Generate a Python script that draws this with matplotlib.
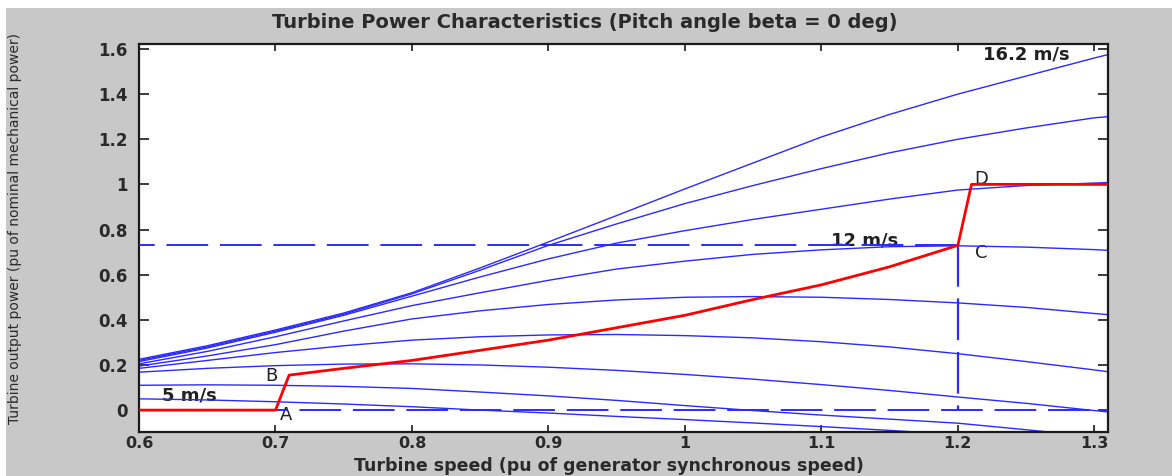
import numpy as np
import matplotlib.pyplot as plt
from matplotlib.patches import Rectangle

plt.rcParams['font.family'] = ['DejaVu Sans']
plt.rcParams['lines.scale_dashes'] = False

# turbine speed (pu) where the curves were read
speed = [0.6, 0.65, 0.7, 0.75, 0.8, 0.85, 0.9, 0.95, 1.0, 1.05, 1.1, 1.15, 1.2, 1.25, 1.3, 1.31]

# turbine output power (pu) for each wind speed
p16_2 = [0.225, 0.285, 0.355, 0.43, 0.52, 0.63, 0.745, 0.862, 0.98, 1.095, 1.21, 1.31, 1.40, 1.48, 1.56, 1.575]
p14_8 = [0.22, 0.28, 0.35, 0.425, 0.515, 0.62, 0.73, 0.825, 0.915, 0.995, 1.07, 1.14, 1.20, 1.25, 1.295, 1.30]
p13_4 = [0.215, 0.275, 0.345, 0.42, 0.505, 0.59, 0.67, 0.74, 0.795, 0.845, 0.89, 0.935, 0.975, 0.995, 1.006, 1.008]
p12 = [0.205, 0.26, 0.325, 0.395, 0.463, 0.52, 0.575, 0.625, 0.66, 0.69, 0.71, 0.724, 0.728, 0.722, 0.711, 0.708]
p10_6 = [0.195, 0.24, 0.29, 0.35, 0.404, 0.44, 0.468, 0.488, 0.5, 0.503, 0.5, 0.49, 0.475, 0.455, 0.428, 0.423]
p9_2 = [0.185, 0.22, 0.255, 0.285, 0.31, 0.325, 0.333, 0.335, 0.33, 0.32, 0.303, 0.28, 0.25, 0.215, 0.178, 0.17]
p7_8 = [0.168, 0.185, 0.197, 0.204, 0.205, 0.2, 0.19, 0.176, 0.158, 0.137, 0.113, 0.087, 0.058, 0.03, -0.002, -0.008]
p6_4 = [0.11, 0.112, 0.11, 0.105, 0.096, 0.08, 0.063, 0.043, 0.02, -0.002, -0.022, -0.04, -0.058, -0.087, -0.117]
p5 = [0.05, 0.045, 0.037, 0.027, 0.015, 0.0, -0.013, -0.028, -0.042, -0.057, -0.073, -0.09, -0.108]

curves = [p16_2, p14_8, p13_4, p12, p10_6, p9_2, p7_8, p6_4, p5]

# tracking characteristic A-B-C-D
track_speed = [0.6, 0.7, 0.71, 0.75, 0.8, 0.85, 0.9, 0.95, 1.0, 1.05, 1.1, 1.15, 1.2, 1.21, 1.31]
track_power = [0.0, 0.0, 0.155, 0.185, 0.22, 0.265, 0.31, 0.365, 0.42, 0.49, 0.555, 0.635, 0.73, 1.0, 1.0]

xticks = [0.6, 0.7, 0.8, 0.9, 1.0, 1.1, 1.2, 1.3]
xtick_labels = ['0.6', '0.7', '0.8', '0.9', '1', '1.1', '1.2', '1.3']
yticks = [0, 0.2, 0.4, 0.6, 0.8, 1.0, 1.2, 1.4, 1.6]
ytick_labels = ['0', '0.2', '0.4', '0.6', '0.8', '1', '1.2', '1.4', '1.6']

W, H = 1172, 476
fig = plt.figure(figsize=(W / 100, H / 100), dpi=100, facecolor='white')
fig.add_artist(Rectangle((6 / W, 0), 1, (H - 8) / H, transform=fig.transFigure,
                         facecolor='#c8c8c8', edgecolor='none', zorder=-10))

ax = fig.add_axes([139 / W, 1 - 432 / H, (1108 - 139) / W, (432 - 44) / H])
ax.set_facecolor('white')

blue = '#2a2aff'
for p in curves:
    ax.plot(speed[:len(p)], p, color=blue, lw=1.0, zorder=2)

# dashed guide lines
ax.plot([0.6, 1.2], [0.73, 0.73], color=blue, lw=1.4, ls=(18.7, (30, 8.5)), zorder=3)
ax.plot([0.6, 1.31], [0, 0], color=blue, lw=1.4, ls=(0, (30, 8.5)), zorder=3)
ax.plot([1.2, 1.2], [0.73, 0], color=blue, lw=1.6, ls=(0, (30, 8.5)), zorder=3)

ax.plot(track_speed, track_power, color='red', lw=2.0, zorder=4)

ax.set_xlim(0.6, 1.31)
ax.set_ylim(-0.097, 1.622)
ax.set_xticks(xticks)
ax.set_xticklabels(xtick_labels)
ax.set_yticks(yticks)
ax.set_yticklabels(ytick_labels)
ax.tick_params(axis='both', direction='in', top=True, right=True,
               colors='#1a1a1a', width=1.2)
ax.tick_params(axis='y', length=7, pad=8, labelsize=12)
ax.tick_params(axis='x', length=5, pad=3, labelsize=11.5)
for lbl in ax.get_xticklabels() + ax.get_yticklabels():
    lbl.set_fontweight('bold')
    lbl.set_color('#2a2a2a')
for s in ax.spines.values():
    s.set_linewidth(1.6)
    s.set_color('#1a1a1a')

# annotations
txt = dict(fontsize=13, color='#202020', ha='center', va='center', zorder=1)
ax.text(1.25, 1.575, '16.2 m/s', fontweight='bold', **txt)
ax.text(1.132, 0.752, '12 m/s', fontweight='bold', **txt)
ax.text(0.637, 0.066, '5 m/s', fontweight='bold', **txt)
ax.text(0.708, -0.02, 'A', **txt)
ax.text(0.697, 0.152, 'B', **txt)
ax.text(1.217, 0.696, 'C', **txt)
ax.text(1.217, 1.024, 'D', **txt)

fig.text(585 / W, 1 - 22 / H, 'Turbine Power Characteristics (Pitch angle beta = 0 deg)',
         ha='center', va='center', fontsize=14, fontweight='bold', color='#2a2a2a')
fig.text(609 / W, 1 / H, 'Turbine speed (pu of generator synchronous speed)',
         ha='center', va='bottom', fontsize=12.5, fontweight='bold', color='#2a2a2a')
fig.text(15 / W, 1 - 228 / H, 'Turbine output power (pu of nominal mechanical power)',
         ha='center', va='center', rotation=90, fontsize=10, color='#2a2a2a')

fig.savefig('out.png', dpi=100, facecolor=fig.get_facecolor())
